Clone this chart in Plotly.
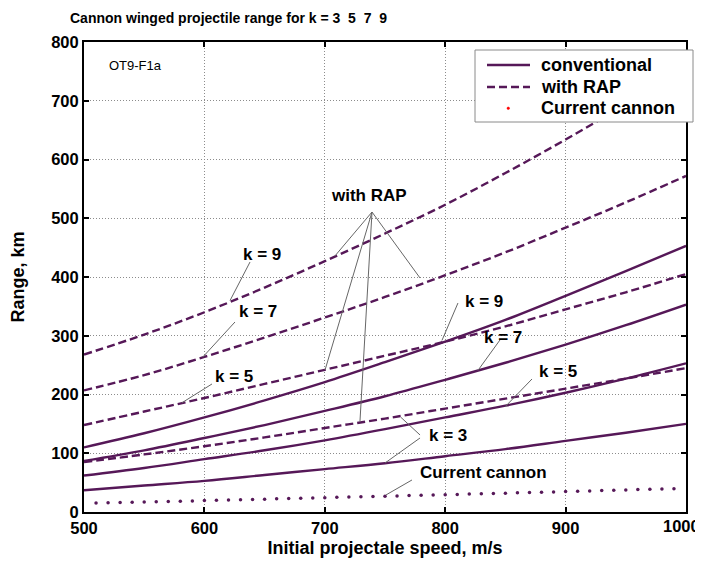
import plotly.graph_objects as go

# ---------------- data ----------------
speed = [500, 550, 600, 650, 700, 750, 800, 850, 900, 950, 1000]

conv_k9 = [110, 134, 161, 190, 221, 255, 290, 327, 368, 410, 453]
conv_k7 = [87, 105, 126, 148, 172, 197, 225, 254, 285, 318, 353]
conv_k5 = [62, 75, 90, 105, 122, 141, 161, 181, 203, 227, 253]
conv_k3 = [37, 45, 53, 63, 73, 83, 95, 107, 121, 135, 150]

rap_k9 = [268, 302, 340, 382, 427, 474, 523, 577, 634, 694, 758]
rap_k7 = [207, 233, 264, 297, 331, 366, 403, 442, 484, 527, 572]
rap_k5 = [148, 171, 194, 218, 242, 266, 290, 316, 345, 374, 405]
rap_k3 = [85, 98, 112, 127, 143, 159, 176, 193, 210, 227, 245]

cannon_speed = [510, 520, 530, 540, 550, 560, 570, 580, 590, 600,
                610, 620, 630, 640, 650, 660, 670, 680, 690, 700,
                710, 720, 730, 740, 750, 760, 770, 780, 790, 800,
                810, 820, 830, 840, 850, 860, 870, 880, 890, 900,
                910, 920, 930, 940, 950, 960, 970, 980, 990]
cannon_range = [15.2, 15.6, 16.0, 16.5, 17.0, 17.4, 17.9, 18.4, 18.9, 19.4,
                19.9, 20.4, 20.9, 21.4, 21.9, 22.4, 22.9, 23.4, 23.9, 24.4,
                24.9, 25.4, 25.9, 26.4, 26.9, 27.4, 27.9, 28.4, 28.9, 29.4,
                30.0, 30.5, 31.0, 31.5, 32.1, 32.6, 33.1, 33.7, 34.2, 34.8,
                35.3, 35.9, 36.4, 37.0, 37.5, 38.1, 38.6, 39.2, 39.7]

legend_names = ["conventional", "with RAP", "Current cannon"]
title_text = "Cannon winged projectile range for k = 3  5  7  9"
x_title = "Initial projectale speed, m/s"
y_title = "Range, km"
x_ticks = [500, 600, 700, 800, 900, 1000]
x_ticktext = ["500", "600", "700", "800", "900", ""]
last_x_label = "1000"
y_ticks = [0, 100, 200, 300, 400, 500, 600, 700, 800]

# ---------------- style ----------------
PURPLE = "#561858"
FONT = "Liberation Sans, Arial, sans-serif"
LW = 2.4
DASH = "8px,4px"
TICK_SIZE = 16.5

W, H = 703, 569
OFF = 8  # page body margin offset
# plot area in screen pixels
L, R, T, B = 84, 686, 42, 512
def px(xp):
    return (xp - L) / (R - L)
def py(yp):
    return (B - yp) / (B - T)

fig = go.Figure()

for ys in [conv_k9, conv_k7, conv_k5, conv_k3]:
    fig.add_trace(go.Scatter(x=speed, y=ys, mode="lines",
                             line=dict(color=PURPLE, width=LW, shape="spline"),
                             showlegend=False, hoverinfo="skip"))
for ys in [rap_k9, rap_k7, rap_k5, rap_k3]:
    fig.add_trace(go.Scatter(x=speed, y=ys, mode="lines",
                             line=dict(color=PURPLE, width=LW, dash=DASH, shape="spline"),
                             showlegend=False, hoverinfo="skip"))
fig.add_trace(go.Scatter(x=cannon_speed, y=cannon_range, mode="markers",
                         marker=dict(color=PURPLE, size=3.5), showlegend=False, hoverinfo="skip"))

# ---------------- annotations ----------------
labels = [
    ("with RAP", 736.7, 537.9),
    ("k = 9", 647.8, 439.1),
    ("k = 7", 644.5, 342.1),
    ("k = 5", 624.6, 229.8),
    ("k = 9", 832.2, 359.1),
    ("k = 7", 848.0, 296.2),
    ("k = 5", 893.7, 240.0),
    ("k = 3", 802.3, 129.4),
    ("Current cannon", 832.2, 66.4),
]
for t, x, y in labels:
    fig.add_annotation(x=x, y=y, xref="x", yref="y", text=t, showarrow=False,
                       xanchor="center", yanchor="middle",
                       font=dict(family=FONT, size=17, color="black", weight="bold"))

pointers = [
    (739.2, 510.6, 708.5, 436.0),
    (739.2, 510.6, 779.1, 398.3),
    (739.2, 510.6, 700.2, 241.7),
    (739.2, 510.6, 729.2, 154.0),
    (637.9, 425.5, 621.3, 360.0),
    (625.4, 323.4, 598.8, 264.0),
    (606.3, 217.9, 581.4, 186.0),
    (810.6, 355.7, 797.3, 292.0),
    (845.5, 292.8, 827.2, 241.0),
    (872.1, 226.4, 849.7, 179.0),
    (779.1, 131.1, 763.3, 161.0),
    (779.1, 126.0, 750.0, 83.4),
    (772.4, 54.5, 750.8, 29.0),
]
for x0, y0, x1, y1 in pointers:
    fig.add_shape(type="line", x0=x0, y0=y0, x1=x1, y1=y1, xref="x", yref="y",
                  line=dict(color="#666666", width=1))

fig.add_annotation(x=px(135), y=py(66), xref="paper", yref="paper", text="OT9-F1a", showarrow=False,
                   xanchor="center", yanchor="middle",
                   font=dict(family=FONT, size=13, color="black"))

# last x tick label kept inside the window
fig.add_annotation(x=1000, y=0, xref="x", yref="paper", text=last_x_label, showarrow=False,
                   xanchor="right", yanchor="top", xshift=16, yshift=-3,
                   font=dict(family=FONT, size=TICK_SIZE, color="black", weight="bold"))

# ---------------- legend (drawn) ----------------
fig.add_shape(type="rect", xref="paper", yref="paper",
              x0=px(475), x1=px(693), y0=py(122), y1=py(50),
              fillcolor="white", line=dict(color="#8a8a8a", width=1), layer="above")
fig.add_shape(type="line", xref="paper", yref="paper", x0=px(487), x1=px(530), y0=py(65), y1=py(65),
              line=dict(color=PURPLE, width=LW), layer="above")
fig.add_shape(type="line", xref="paper", yref="paper", x0=px(487), x1=px(530), y0=py(87), y1=py(87),
              line=dict(color=PURPLE, width=LW, dash=DASH), layer="above")
fig.add_shape(type="circle", xref="paper", yref="paper", x0=px(507), x1=px(509.5), y0=py(109.5), y1=py(107),
              fillcolor="red", line=dict(color="red", width=0.5), layer="above")
for name, yp in zip(legend_names, [65, 87, 108]):
    fig.add_annotation(x=px(539), y=py(yp), xref="paper", yref="paper", text=name, showarrow=False,
                       xanchor="left", yanchor="middle",
                       font=dict(family=FONT, size=18, color="black", weight="bold"))

axis_common = dict(
    showline=True, linecolor="black", linewidth=2, mirror="ticks",
    ticks="inside", ticklen=5, tickwidth=2, tickcolor="black",
    showgrid=True, gridcolor="#8c8c8c", gridwidth=1, griddash="1px,2px",
    zeroline=False, automargin=False, ticklabeloverflow="allow",
    tickfont=dict(family=FONT, size=TICK_SIZE, color="black", weight="bold"),
)

fig.update_layout(
    width=W, height=H,
    margin=dict(l=L - OFF, r=W - (R - OFF), t=T - OFF, b=H - (B - OFF)),
    paper_bgcolor="white", plot_bgcolor="white",
    title=dict(text=title_text, x=(70 - OFF) / W, xanchor="left", y=1 - (18 - OFF) / H, yanchor="middle",
               automargin=False,
               font=dict(family=FONT, size=14, color="black", weight="bold")),
    xaxis=dict(range=[500, 1000], tickvals=x_ticks, ticktext=x_ticktext,
               title=dict(text=x_title, standoff=6,
                          font=dict(family=FONT, size=18, color="black", weight="bold")),
               **axis_common),
    yaxis=dict(range=[0, 800], tickvals=y_ticks,
               title=dict(text=y_title, standoff=30,
                          font=dict(family=FONT, size=18, color="black", weight="bold")),
               **axis_common),
    showlegend=False,
)

fig.write_html("out.html")
